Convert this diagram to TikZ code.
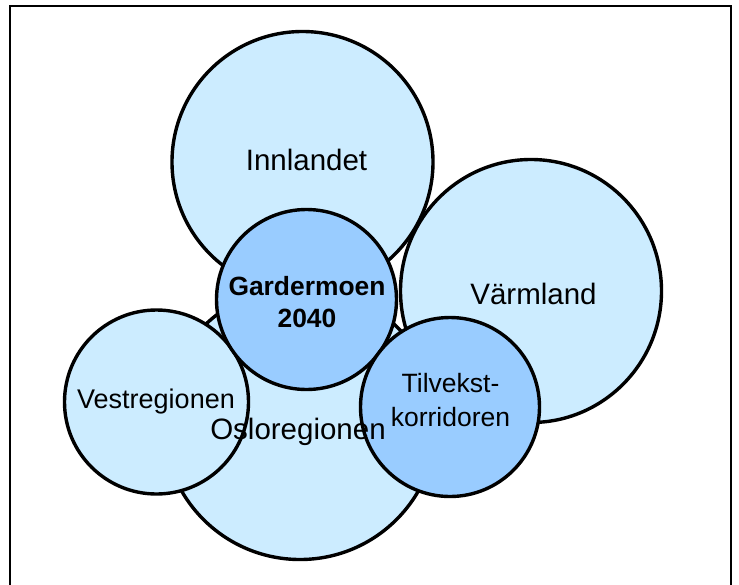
\documentclass[tikz,border=0pt]{standalone}
\usepackage{fontspec}
\setmainfont{Liberation Sans}
\usepackage{tikz}
\usetikzlibrary{positioning,
                shapes.geometric}   % ellipse shape

\definecolor{paleblue}{HTML}{CCECFF}
\definecolor{midblue}{HTML}{99CCFF}

\tikzset{
    region/.style={ellipse, draw=black, line width=3.4pt, fill=paleblue, inner sep=0pt},
    hub/.style={region, fill=midblue},
    bigtext/.style={inner sep=0pt, font=\fontsize{29.5}{34}\selectfont},
    smalltext/.style={inner sep=0pt, align=center, font=\fontsize{26.5}{33.5}\selectfont},
}

\begin{document}
\begin{tikzpicture}[x=1pt, y=-1pt]
    \useasboundingbox (0,0) rectangle (739,584);
    % frame, open at the bottom
    \draw[line width=2pt] (9.5,600) -- (9.5,5.5) -- (730.5,5.5) -- (730.5,600);

    % the regions, back to front
    \node[region, minimum size=261pt] (innlandet) at (302.5,162) {};
    \node[region, minimum width=261pt, minimum height=263pt] (varmland) at (531,291) {};
    \node[region, minimum size=273pt] (oslo) at (300,423) {};
    \node[region, minimum size=184pt] (vest) at (156.5,402) {};
    \node[hub, minimum size=180pt] (gardermoen) at (306.5,299.5) {};
    \node[hub, minimum size=179pt] (tilvekst) at (450,407) {};

    % labels on top
    \node[bigtext] (innlandet-txt) at (306.5,160) {Innlandet};
    \node[bigtext] (varmland-txt) at (533.5,294) {Värmland};
    \node[bigtext] (oslo-txt) at (298,432) {Osloregionen};
    \node[inner sep=0pt, font=\fontsize{27}{32}\selectfont] (vest-txt) at (156,402) {Vestregionen};
    \node[smalltext, font=\fontsize{26.4}{31.6}\selectfont\bfseries] (gardermoen-txt) at (307,302) {Gardermoen\\2040};
    \node[smalltext] (tilvekst-txt) at (450.5,400) {Tilvekst-\\korridoren};
\end{tikzpicture}
\end{document}
